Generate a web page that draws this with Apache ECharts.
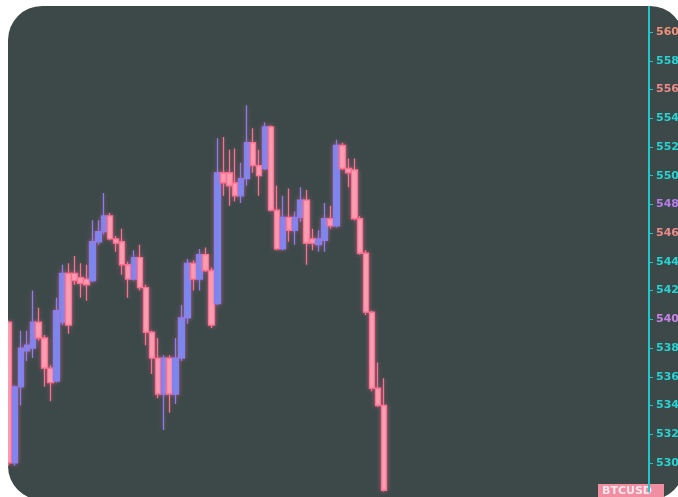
<!DOCTYPE html>
<html>
<head>
<meta charset="utf-8">
<script src="https://cdn.jsdelivr.net/npm/echarts@6/dist/echarts.min.js"></script>
<style>
  html, body { margin: 0; padding: 0; background: #ffffff; }
  #box {
    position: absolute; left: 8px; top: 6px; width: 676px; height: 494px;
    background: #3d4949; border-radius: 34px; overflow: hidden;
  }
  #chart { position: absolute; left: -8px; top: -6px; width: 678px; height: 497px; }
</style>
</head>
<body>
<div id="box"><div id="chart"></div></div>
<script>
// BTCUSD candles (price units)
var openVals  = [5398, 5300, 5353, 5378, 5380, 5398, 5387, 5366, 5357, 5398, 5432, 5432, 5429, 5428, 5427, 5454,
                 5461, 5472, 5456, 5454, 5438, 5428, 5443, 5422, 5391, 5373, 5348, 5373, 5348, 5373, 5401, 5439,
                 5428, 5445, 5434, 5411, 5502, 5502, 5495, 5486, 5498, 5523, 5507, 5505, 5534, 5476, 5449, 5471,
                 5462, 5471, 5483, 5456, 5452, 5455, 5470, 5465, 5521, 5505, 5504, 5470, 5446, 5405, 5352, 5340];
var closeVals = [5300, 5353, 5380, 5382, 5398, 5387, 5366, 5356, 5406, 5432, 5396, 5427, 5425, 5424, 5454, 5461,
                 5472, 5456, 5453, 5438, 5428, 5443, 5422, 5391, 5373, 5348, 5373, 5348, 5373, 5401, 5439, 5428,
                 5445, 5434, 5396, 5502, 5495, 5493, 5486, 5498, 5523, 5507, 5500, 5534, 5476, 5449, 5471, 5462,
                 5471, 5483, 5453, 5453, 5456, 5470, 5465, 5521, 5505, 5502, 5470, 5446, 5405, 5352, 5340, 5281];
var lowVals   = [5298, 5298, 5340, 5371, 5373, 5385, 5353, 5343, 5356, 5396, 5390, 5424, 5415, 5413, 5426, 5452,
                 5459, 5455, 5447, 5431, 5415, 5427, 5420, 5382, 5362, 5345, 5323, 5335, 5341, 5371, 5397, 5420,
                 5420, 5433, 5394, 5410, 5486, 5479, 5482, 5481, 5493, 5502, 5486, 5504, 5475, 5448, 5448, 5454,
                 5452, 5468, 5438, 5448, 5447, 5447, 5463, 5464, 5504, 5492, 5469, 5445, 5403, 5350, 5339, 5280];
var highVals  = [5399, 5354, 5392, 5392, 5420, 5408, 5389, 5368, 5415, 5438, 5439, 5444, 5439, 5438, 5469, 5469,
                 5488, 5474, 5458, 5463, 5440, 5448, 5452, 5424, 5392, 5387, 5375, 5375, 5387, 5410, 5442, 5441,
                 5449, 5450, 5436, 5526, 5527, 5518, 5519, 5509, 5549, 5533, 5518, 5537, 5535, 5493, 5486, 5491,
                 5475, 5492, 5490, 5463, 5462, 5481, 5479, 5525, 5523, 5512, 5512, 5472, 5448, 5406, 5370, 5359];

// price scale on the right
var yMin = 5280;
var yMax = 5620;
var yStep = 20;

// 108 time slots, only the first 64 are filled
var slotCount = 108;
var slots = [];
for (var i = 0; i < slotCount; i++) slots.push('t' + (i + 1));

var candles = [];
for (var k = 0; k < openVals.length; k++) {
  candles.push([openVals[k], closeVals[k], lowVals[k], highVals[k]]);
}

var labelColors = {
  5600: '#f0907a', 5560: '#f08a8a', 5480: '#b77cf0', 5460: '#f08a8a', 5400: '#c884e8'
};

var chart = echarts.init(document.getElementById('chart'), null, { renderer: 'canvas' });

chart.setOption({
  backgroundColor: 'transparent',
  animation: false,
  grid: { left: 6, right: 29, top: 3.3, bottom: 5.3, containLabel: false, outerBoundsMode: 'none' },
  xAxis: {
    type: 'category',
    data: slots,
    boundaryGap: true,
    show: false
  },
  yAxis: {
    type: 'value',
    position: 'right',
    min: yMin,
    max: yMax,
    interval: yStep,
    splitLine: { show: false },
    axisLine: { show: true, lineStyle: { color: '#1fc6ca', width: 2 } },
    axisTick: { show: true, length: 4, lineStyle: { color: '#1fc6ca' } },
    axisLabel: {
      showMinLabel: false,
      showMaxLabel: false,
      margin: 7,
      fontFamily: 'DejaVu Sans',
      fontWeight: 'bold',
      fontSize: 11,
      formatter: function(v) { return String(v); },
      color: function(v) { return labelColors[v] || '#27d3d3'; }
    }
  },
  series: [{
    type: 'candlestick',
    data: candles,
    barWidth: 6,
    itemStyle: {
      color: '#6f8af2',
      borderColor: '#8a7cf2',
      color0: '#f9a3b4',
      borderColor0: '#ff6f8e',
      borderWidth: 1.3,
      shadowBlur: 5,
      shadowColor: 'rgba(255,120,170,0.4)'
    }
  }],
  graphic: [{
    type: 'group',
    left: 598,
    top: 484,
    children: [
      { type: 'rect', shape: { x: 0, y: 0, width: 66, height: 16 }, style: { fill: '#f28ea2' } },
      { type: 'text', style: { x: 4, y: 2, text: 'BTCUSD', fill: '#ffe8ee',
        font: 'bold 11px "DejaVu Sans"' } }
    ]
  }]
});

window.addEventListener('resize', function() { chart.resize(); });
</script>
</body>
</html>
